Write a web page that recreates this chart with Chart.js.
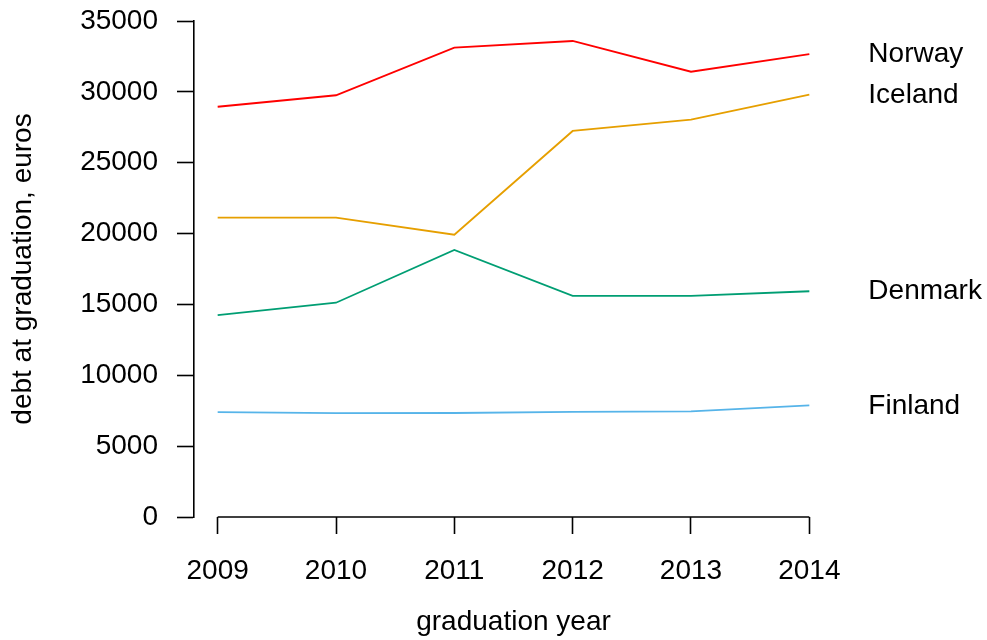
<!DOCTYPE html>
<html>
<head>
<meta charset="utf-8">
<script src="https://cdn.jsdelivr.net/npm/chart.js@4.4.1/dist/chart.umd.min.js"></script>
<style>
  html, body { margin: 0; padding: 0; background: #fff; }
</style>
</head>
<body>
<canvas id="debt-chart" width="987" height="640"></canvas>
<script>
// graduation years on the x axis
const years = [2009, 2010, 2011, 2012, 2013, 2014];

// debt at graduation (euros)
const norway  = [28950, 29760, 33120, 33590, 31420, 32670];
const iceland = [21120, 21120, 19920, 27240, 28040, 29800];
const denmark = [14250, 15120, 18840, 15600, 15600, 15930];
const finland = [7400, 7330, 7340, 7420, 7460, 7880];

const countries = ['Norway', 'Iceland', 'Denmark', 'Finland'];
const colours = ['#FF0000', '#E69F00', '#009E73', '#56B4E9'];
const yTicks = [0, 5000, 10000, 15000, 20000, 25000, 30000, 35000];

const FONT = { family: "'Liberation Sans', Arial, sans-serif", size: 28 };

const toPoints = (vals) => vals.map((v, i) => ({ x: years[i], y: v }));

const data = {
  datasets: [norway, iceland, denmark, finland].map((vals, i) => ({
    label: countries[i],
    data: toPoints(vals),
    borderColor: colours[i],
    borderWidth: 1.8,
    pointRadius: 0,
    tension: 0,
    fill: false,
  })),
};

/* x axis line only spans first to last year, like base R axis() */
const rAxisLine = {
  id: 'rAxisLine',
  afterDraw(chart) {
    const { ctx, scales: { x }, chartArea } = chart;
    const x0 = x.getPixelForValue(years[0]);
    const x1 = x.getPixelForValue(years[years.length - 1]);
    ctx.save();
    ctx.strokeStyle = '#000';
    ctx.lineWidth = 1.6;
    ctx.beginPath();
    ctx.moveTo(x0, chartArea.bottom);
    ctx.lineTo(x1, chartArea.bottom);
    ctx.stroke();
    ctx.restore();
  },
};

/* country names next to the last value of each line */
const endLabels = {
  id: 'endLabels',
  afterDatasetsDraw(chart) {
    const { ctx, scales: { x, y } } = chart;
    ctx.save();
    ctx.font = `${FONT.size}px ${FONT.family}`;
    ctx.fillStyle = '#000';
    ctx.textAlign = 'left';
    ctx.textBaseline = 'middle';
    chart.data.datasets.forEach((ds) => {
      const last = ds.data[ds.data.length - 1];
      ctx.fillText(ds.label, x.getPixelForValue(last.x) + 59, y.getPixelForValue(last.y) + 0.5);
    });
    ctx.restore();
  },
};

const config = {
  type: 'line',
  data,
  options: {
    responsive: false,
    animation: false,
    layout: {
      padding: { top: 21, right: 154, bottom: 0, left: 0 },
    },
    plugins: {
      legend: { display: false },
      tooltip: { enabled: false },
    },
    scales: {
      x: {
        type: 'linear',
        min: years[0] - 0.2,
        max: years[years.length - 1] + 0.2,
        afterBuildTicks: (scale) => {
          scale.ticks = years.map((v) => ({ value: v }));
        },
        afterFit: (scale) => {
          scale.height = 123;
          scale.paddingLeft = 0;
          scale.paddingRight = 0;
        },
        border: { display: false },
        grid: {
          drawOnChartArea: false,
          drawTicks: true,
          tickLength: 17,
          tickColor: '#000',
          tickWidth: 1.6,
        },
        ticks: {
          font: FONT,
          color: '#000',
          padding: 20.5,
          maxRotation: 0,
          autoSkip: false,
          callback: (v) => String(v),
        },
        title: {
          display: true,
          text: 'graduation year',
          font: FONT,
          color: '#000',
          padding: { top: 0, bottom: 1 },
        },
      },
      y: {
        min: yTicks[0],
        max: yTicks[yTicks.length - 1],
        afterBuildTicks: (scale) => {
          scale.ticks = yTicks.map((v) => ({ value: v }));
        },
        afterFit: (scale) => {
          scale.width = 194;
          scale.paddingTop = 0;
          scale.paddingBottom = 0;
        },
        border: { display: true, color: '#000', width: 1.6 },
        grid: {
          drawOnChartArea: false,
          drawTicks: true,
          tickLength: 17,
          tickColor: '#000',
          tickWidth: 1.6,
        },
        ticks: {
          font: FONT,
          color: '#000',
          padding: 19,
          autoSkip: false,
          callback: (v) => String(v),
        },
        title: {
          display: true,
          text: 'debt at graduation, euros',
          font: FONT,
          color: '#000',
          padding: { top: 6.5, bottom: 0 },
        },
      },
    },
  },
  plugins: [rAxisLine, endLabels],
};

new Chart(document.getElementById('debt-chart'), config);
</script>
</body>
</html>
